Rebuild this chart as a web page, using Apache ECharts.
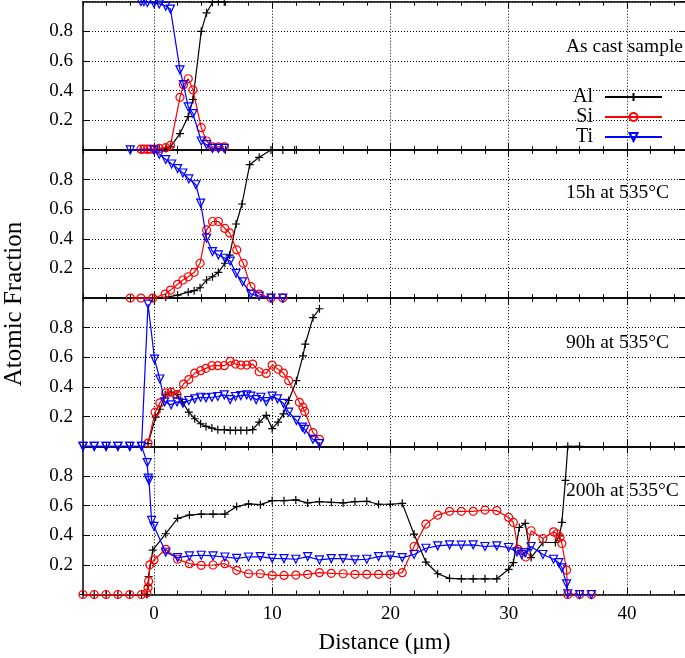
<!DOCTYPE html>
<html><head><meta charset="utf-8">
<script src="https://cdn.jsdelivr.net/npm/echarts@6/dist/echarts.min.js"></script>
<style>html,body{margin:0;padding:0;background:#fff}#c{width:685px;height:658px}</style>
</head><body><div id="c"></div>
<script>
// ---- data ----
const panelLabels = ['As cast sample', '15h at 535°C', '90h at 535°C', '200h at 535°C'];
const xTickLabels = [0, 10, 20, 30, 40];
const xMinorTicks = [-6,-4,-2,0,2,4,6,8,10,12,14,16,18,20,22,24,26,28,30,32,34,36,38,40,42,44];
const seriesNames = ['Al', 'Si', 'Ti'];

// As cast sample
const alCast = [[-1.1,0],[-0.55,0],[0,0],[0.45,0.005],[1.0,0.01],[1.4,0.02],[2.2,0.11],[2.9,0.225],[3.3,0.34],[4.0,0.80],[4.45,0.925],[4.95,0.995],[5.45,1.0],[5.95,1.0]];
const siCast = [[-1.1,0.005],[-0.85,0.005],[-0.55,0.005],[-0.3,0.005],[0,0.005],[0.45,0.01],[1.0,0.015],[1.4,0.03],[2.2,0.355],[2.5,0.44],[2.9,0.48],[3.3,0.405],[4.0,0.15],[4.45,0.06],[4.95,0.02],[5.45,0.02],[5.95,0.02]];
const tiCast = [[-1.1,1.0],[-0.85,1.0],[-0.55,0.995],[0,0.99],[0.45,0.985],[1.0,0.97],[1.4,0.95],[2.2,0.54],[2.5,0.44],[2.9,0.29],[3.3,0.245],[4.0,0.06],[4.45,0.035],[4.95,0.01],[5.45,0.01],[5.95,0.01]];

// 15h at 535°C
const al15h = [[-0.1,0],[1.0,0.005],[2.0,0.02],[2.9,0.04],[3.4,0.05],[3.9,0.07],[4.45,0.122],[4.95,0.144],[5.45,0.174],[6.0,0.235],[6.4,0.29],[6.95,0.50],[7.45,0.635],[8.1,0.90],[8.9,0.95],[9.9,1.0],[10.9,1.0],[11.9,1.0]];
const si15h = [[-2.0,0],[-1.1,0],[-0.1,0],[0.95,0.027],[1.4,0.054],[2.0,0.093],[2.45,0.122],[2.9,0.144],[3.4,0.174],[3.9,0.235],[4.45,0.46],[4.95,0.517],[5.45,0.517],[6.0,0.47],[6.4,0.44],[7.0,0.325],[7.55,0.235],[8.2,0.077],[8.9,0.027],[9.9,0],[10.9,0]];
const ti15h = [[-2.0,1.0],[0,1.0],[0.45,0.97],[1.0,0.935],[1.5,0.905],[2.0,0.874],[2.45,0.844],[2.95,0.804],[3.55,0.765],[3.95,0.641],[4.45,0.404],[4.95,0.314],[5.45,0.291],[6.0,0.269],[6.45,0.25],[6.95,0.167],[7.5,0.11],[8.2,0.027],[8.9,0.014],[9.9,0],[10.9,0]];

// 90h at 535°C
const al90h = [[-0.5,0.018],[0.15,0.197],[0.5,0.25],[0.95,0.347],[1.45,0.365],[1.95,0.349],[2.4,0.30],[2.95,0.23],[3.45,0.186],[3.95,0.152],[4.4,0.134],[4.9,0.123],[5.4,0.112],[5.95,0.112],[6.45,0.107],[6.9,0.107],[7.35,0.107],[7.85,0.107],[8.35,0.112],[8.9,0.163],[9.5,0.208],[10.0,0.119],[10.5,0.163],[10.95,0.219],[11.4,0.309],[12.05,0.443],[12.6,0.61],[12.8,0.69],[13.45,0.868],[14.0,0.928]];
const si90h = [[-0.5,0.022],[0.1,0.23],[0.5,0.293],[1.0,0.36],[1.45,0.365],[1.95,0.349],[2.5,0.42],[2.95,0.45],[3.45,0.494],[3.95,0.51],[4.4,0.526],[4.9,0.544],[5.4,0.544],[5.95,0.544],[6.45,0.573],[6.9,0.555],[7.35,0.548],[7.85,0.548],[8.35,0.555],[8.9,0.503],[9.5,0.492],[10.0,0.548],[10.5,0.52],[10.95,0.494],[11.4,0.443],[12.3,0.297],[12.6,0.264],[12.75,0.235],[13.45,0.092],[14.0,0.047]];
const ti90h = [[-6,0],[-5.05,0],[-4.05,0],[-3.05,0],[-2.05,0],[-1.05,0],[-0.5,0.96],[0.05,0.588],[0.5,0.454],[0.9,0.30],[1.45,0.28],[1.95,0.30],[2.45,0.29],[2.95,0.309],[3.45,0.32],[3.95,0.331],[4.4,0.327],[4.9,0.331],[5.4,0.336],[5.95,0.347],[6.45,0.315],[6.9,0.336],[7.35,0.342],[7.85,0.347],[8.2,0.338],[8.65,0.315],[9.05,0.331],[9.5,0.302],[10.0,0.338],[10.45,0.32],[10.95,0.29],[11.4,0.23],[12.05,0.175],[12.55,0.13],[12.75,0.114],[13.45,0.047],[14.0,0.018]];

// 200h at 535°C
const al200h = [[-6,0],[-5.05,0],[-4.05,0],[-3.05,0],[-2.05,0],[-1.05,0],[-0.6,0],[-0.5,0.06],[-0.45,0.12],[-0.1,0.30],[1,0.41],[2,0.514],[3,0.536],[4,0.543],[5,0.543],[6,0.543],[7,0.593],[8,0.611],[9,0.606],[10,0.633],[11,0.633],[12,0.638],[13,0.618],[14,0.627],[15,0.622],[16,0.618],[17,0.627],[18,0.629],[19,0.609],[20,0.609],[21,0.615],[22,0.407],[23,0.219],[24,0.14],[25,0.109],[26,0.106],[27,0.106],[28,0.106],[29,0.106],[30,0.17],[30.4,0.215],[30.9,0.452],[31.4,0.48],[31.9,0.249],[32.9,0.351],[33.95,0.351],[34.3,0.396],[34.5,0.486],[34.8,0.77],[35,1.0],[36,1.0]];
const si200h = [[-6,0],[-5.05,0],[-4.05,0],[-3.05,0],[-2.05,0],[-1.05,0],[-0.6,0.01],[-0.5,0.045],[-0.45,0.09],[-0.35,0.2],[0,0.233],[1,0.305],[2,0.238],[3,0.208],[4,0.197],[5,0.199],[6,0.208],[7,0.163],[8,0.14],[9,0.14],[10,0.129],[11,0.129],[12,0.131],[13,0.136],[14,0.147],[15,0.143],[16,0.14],[17,0.136],[18,0.136],[19,0.136],[20,0.136],[21,0.147],[22,0.324],[23,0.475],[24,0.536],[25,0.561],[26,0.561],[27,0.561],[28,0.57],[29,0.566],[30,0.52],[30.4,0.486],[30.8,0.305],[31.45,0.253],[31.9,0.43],[32.9,0.378],[33.8,0.423],[34.1,0.41],[34.35,0.385],[34.5,0.344],[34.9,0.165],[35,0],[36,0],[37,0]];
const ti200h = [[-6,1],[-5.05,1],[-4.05,1],[-3.05,1],[-2.05,1],[-1.05,1],[-0.57,0.89],[-0.48,0.785],[-0.42,0.77],[-0.2,0.5],[0,0.46],[1,0.285],[2,0.249],[3,0.26],[4,0.265],[5,0.26],[6,0.253],[7,0.244],[8,0.253],[9,0.256],[10,0.244],[11,0.242],[12,0.238],[13,0.256],[14,0.233],[15,0.242],[16,0.242],[17,0.233],[18,0.238],[19,0.256],[20,0.26],[21,0.249],[22,0.27],[23,0.312],[24,0.328],[25,0.335],[26,0.333],[27,0.335],[28,0.324],[29,0.328],[30,0.317],[30.7,0.287],[31.1,0.27],[31.4,0.283],[31.9,0.324],[32.9,0.27],[33.8,0.238],[34.25,0.215],[34.5,0.18],[34.9,0.072],[35,0.005],[36,0],[37,0]];

const panels = [
  [alCast, siCast, tiCast],
  [al15h, si15h, ti15h],
  [al90h, si90h, ti90h],
  [al200h, si200h, ti200h]
];

// ---- styling ----
const FONT = 'Liberation Serif';
const COLORS = ['#000000', '#ff0000', '#0000ff'];
const plusPath = 'path://M0,5L10,5M5,0L5,10';
const SYMBOLS = [
  {symbol: plusPath, symbolSize: 8, symbolRotate: 0},
  {symbol: 'circle', symbolSize: 8, symbolRotate: 0},
  {symbol: 'triangle', symbolSize: 8, symbolRotate: 180}
];
const GRID_LEFT = 83, GRID_WIDTH = 603, TOP0 = 1.7, PH = 148.2;
const dotted = {color: '#000', width: 1, type: [1, 2]};
const border = {color: '#000', width: 1.5};

const grids = [], xAxes = [], yAxes = [], series = [], graphics = [];
panels.forEach((p, k) => {
  grids.push({left: GRID_LEFT, width: GRID_WIDTH, top: TOP0 + k * PH, height: PH, outerBoundsMode: 'none', containLabel: false});
  const base = {gridIndex: k, type: 'value', min: -6, max: 45};
  ['bottom', 'top'].forEach(pos => {
    xAxes.push(Object.assign({}, base, {
      position: pos,
      axisLine: {show: true, onZero: false, lineStyle: border},
      axisTick: {show: true, inside: true, length: 4, customValues: xMinorTicks, lineStyle: {color: '#000', width: 1}},
      axisLabel: {show: false},
      splitLine: {show: false}
    }));
  });
  ['bottom', 'top'].forEach(pos => {
    const isLabelAxis = (k === 3 && pos === 'bottom');
    xAxes.push(Object.assign({}, base, {
      position: pos,
      axisLine: {show: false, onZero: false},
      axisTick: {show: true, inside: true, length: 7, customValues: xTickLabels, lineStyle: {color: '#000', width: 1}},
      axisLabel: {show: isLabelAxis, customValues: xTickLabels, margin: 10, color: '#000', fontFamily: FONT, fontSize: 19},
      splitLine: {show: pos === 'bottom', lineStyle: dotted},
      name: isLabelAxis ? 'Distance (μm)' : '',
      nameLocation: 'middle',
      nameGap: 37,
      nameTextStyle: {color: '#000', fontFamily: FONT, fontSize: 23}
    }));
  });
  ['left', 'right'].forEach(pos => {
    yAxes.push({
      gridIndex: k, type: 'value', min: 0, max: 1, interval: 0.2, position: pos,
      axisLine: {show: true, onZero: false, lineStyle: border},
      axisTick: {show: true, inside: true, length: 7, lineStyle: {color: '#000', width: 1}},
      axisLabel: {show: pos === 'left', showMinLabel: false, showMaxLabel: false, margin: 10, color: '#000', fontFamily: FONT, fontSize: 19},
      splitLine: {show: pos === 'left', lineStyle: dotted}
    });
  });
  p.forEach((data, j) => {
    series.push({
      name: seriesNames[j], type: 'line', data: data,
      xAxisIndex: 4 * k, yAxisIndex: 2 * k,
      symbol: SYMBOLS[j].symbol, symbolSize: SYMBOLS[j].symbolSize, symbolRotate: SYMBOLS[j].symbolRotate,
      showAllSymbol: true, clip: false, animation: false, z: 3 + j,
      lineStyle: {color: COLORS[j], width: 1.2},
      itemStyle: {color: j === 0 ? COLORS[j] : 'rgba(255,255,255,0)', borderColor: COLORS[j], borderWidth: 1.2}
    });
  });
  graphics.push({
    type: 'text', left: 566, top: TOP0 + k * PH + [35, 33, 35, 35][k],
    style: {text: panelLabels[k], fontFamily: FONT, fontSize: 19.5, fill: '#000'}
  });
});
graphics.push({
  type: 'text', x: 14, y: 304, rotation: Math.PI / 2,
  style: {text: 'Atomic Fraction', fontFamily: FONT, fontSize: 25, fill: '#000', align: 'center', verticalAlign: 'middle', textAlign: 'center', textVerticalAlign: 'middle'}
});

const chart = echarts.init(document.getElementById('c'), null, {renderer: 'canvas'});
chart.setOption({
  backgroundColor: '#fff',
  animation: false,
  grid: grids, xAxis: xAxes, yAxis: yAxes, series: series,
  legend: {
    data: seriesNames, orient: 'vertical', right: 17, top: 82, align: 'right',
    itemWidth: 57, itemHeight: 10, itemGap: 0,
    textStyle: {color: '#000', fontFamily: FONT, fontSize: 20, padding: [0, 7, 0, 0]}
  },
  graphic: graphics
});
</script></body></html>
